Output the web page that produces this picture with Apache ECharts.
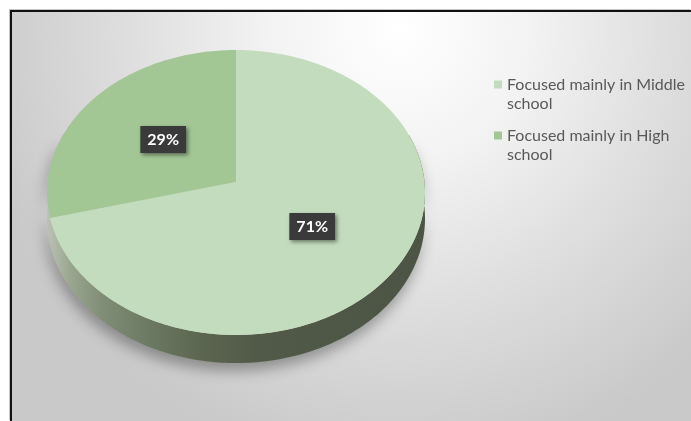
<!DOCTYPE html>
<html>
<head>
<meta charset="utf-8">
<script src="https://cdn.jsdelivr.net/npm/echarts@6/dist/echarts.min.js"></script>
<style>
  html, body { margin: 0; padding: 0; background: #ffffff; }
  #frame {
    position: absolute; left: 10px; top: 10px; width: 681px; height: 411px;
    box-sizing: border-box;
    border-left: 2px solid #111; border-top: 2px solid #111;
    box-shadow: -1px -1px 0 #c4c4c4;
    background: radial-gradient(ellipse 430px 440px at 57% 4%, #ffffff 0%, #f3f3f3 30%, #dddddd 65%, #c9c9c9 100%);
  }
  #chart { width: 679px; height: 409px; }
</style>
</head>
<body>
<div id="frame"><div id="chart"></div></div>
<script>
// Categories and their shares (percent)
const categories = ['Focused mainly in Middle\nschool', 'Focused mainly in High\nschool'];
const shares = [71, 29];
const sliceColors = ['#c3dcbd', '#a2c794'];

// Tilted-disc geometry (chart pixels)
const geo = { cx: 224, cy: 170, R: 188.5, B: 141.7, K: 0.0737, D: 26 };

// Angle is clockwise from 12 o'clock; r is fraction of radius; drop lowers the rim (side wall)
function proj(theta, r, drop) {
  const u = r * Math.sin(theta), v = -r * Math.cos(theta);
  const s = 1 / (1 - geo.K * v);
  return [geo.cx + geo.R * u * s, geo.cy + (geo.B * v + drop) * s];
}

const total = shares.reduce((a, b) => a + b, 0);
let acc = 0;
const sliceData = shares.map(v => { const d = [acc, v]; acc += v; return d; });

function renderSlice(params, api) {
  const start = api.value(0) / total * Math.PI * 2;
  const end = (api.value(0) + api.value(1)) / total * Math.PI * 2;
  const pts = [proj(0, 0, 0)];
  const n = Math.max(8, Math.ceil((end - start) / (Math.PI / 180)));
  for (let i = 0; i <= n; i++) pts.push(proj(start + (end - start) * i / n, 1, 0));
  const mid = (start + end) / 2;
  const lp = proj(mid, 0.5, 0);
  return {
    type: 'group',
    children: [
      { type: 'polygon', shape: { points: pts }, style: { fill: api.visual('color') } },
      {
        type: 'text', z2: 10,
        x: lp[0], y: lp[1],
        style: {
          text: api.value(1) + '%',
          align: 'center', verticalAlign: 'middle',
          fill: '#ffffff', font: 'bold 16px Lato',
          backgroundColor: '#3a3a3a', padding: [6, 7, 5, 7],
          shadowBlur: 4, shadowOffsetX: 2, shadowOffsetY: 2, shadowColor: 'rgba(0,0,0,0.45)'
        }
      }
    ]
  };
}

function renderSide(params, api) {
  const a0 = 70 * Math.PI / 180, a1 = 290 * Math.PI / 180;
  const top = [], bottom = [];
  for (let i = 0; i <= 220; i++) {
    const t = a0 + (a1 - a0) * i / 220;
    top.push(proj(t, 1, 0));
    bottom.push(proj(t, 1, geo.D));
  }
  return {
    type: 'polygon',
    shape: { points: top.concat(bottom.reverse()) },
    style: {
      fill: {
        type: 'linear', x: 0, y: 0, x2: 1, y2: 0,
        colorStops: [
          { offset: 0, color: '#bcc2b5' },
          { offset: 0.06, color: '#9aa790' },
          { offset: 0.15, color: '#7f8d76' },
          { offset: 0.28, color: '#6a7761' },
          { offset: 0.42, color: '#5a654f' },
          { offset: 0.56, color: '#515a48' },
          { offset: 1, color: '#4c5545' }
        ]
      },
      shadowBlur: 14, shadowOffsetY: 8, shadowOffsetX: -2, shadowColor: 'rgba(0,0,0,0.32)'
    }
  };
}

const series = [{
  type: 'custom', name: 'side', coordinateSystem: 'none', silent: true, z: 1,
  data: [[0, total]], renderItem: renderSide
}].concat(categories.map((name, i) => ({
  type: 'custom', name: name, coordinateSystem: 'none', z: 2,
  itemStyle: { color: sliceColors[i] },
  data: [sliceData[i]],
  renderItem: renderSlice
})));

const chart = echarts.init(document.getElementById('chart'), null, { renderer: 'canvas' });
chart.setOption({
  backgroundColor: 'transparent',
  animation: false,
  legend: {
    data: categories,
    orient: 'vertical',
    left: 477, top: 39,
    icon: 'rect', itemWidth: 8, itemHeight: 8, itemGap: -6,
    selectedMode: false,
    // leading blank line keeps the swatch level with the first text line
    formatter: name => '\n' + name,
    textStyle: { fontFamily: 'Lato', fontSize: 16, color: '#595959', lineHeight: 19 }
  },
  series: series
});
</script>
</body>
</html>
